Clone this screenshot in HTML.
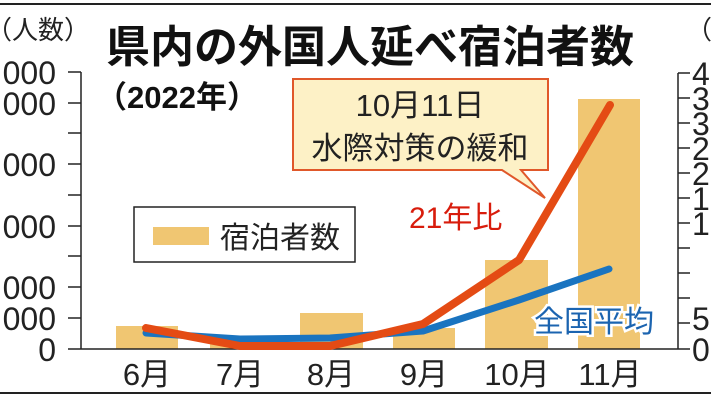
<!DOCTYPE html>
<html><head><meta charset="utf-8"><style>
body{margin:0;background:#fff;}
svg{display:block;font-family:"Liberation Sans","Noto Sans CJK JP",sans-serif;}
</style></head><body>
<svg width="711" height="400" viewBox="0 0 711 400" xmlns="http://www.w3.org/2000/svg">
<rect width="711" height="400" fill="#fff"/>
<line x1="0" y1="4" x2="711" y2="4" stroke="#222" stroke-width="2"/>
<line x1="0" y1="393" x2="711" y2="393" stroke="#222" stroke-width="2"/>
<g fill="#f0c672">
<rect x="116" y="326" width="62" height="23"/>
<rect x="210" y="337" width="62" height="12"/>
<rect x="300" y="313" width="63" height="36"/>
<rect x="393" y="328" width="62" height="21"/>
<rect x="485" y="260" width="63" height="89"/>
<rect x="578" y="99" width="62" height="250"/>
</g>
<g stroke="#222" stroke-width="1.5">
<line x1="81" y1="72" x2="81" y2="349"/>
<line x1="68" y1="349" x2="678" y2="349"/>
<line x1="68" y1="72" x2="81" y2="72"/><line x1="68" y1="103" x2="81" y2="103"/>
<line x1="68" y1="133" x2="81" y2="133"/><line x1="68" y1="164" x2="81" y2="164"/>
<line x1="68" y1="195" x2="81" y2="195"/><line x1="68" y1="226" x2="81" y2="226"/>
<line x1="68" y1="256" x2="81" y2="256"/><line x1="68" y1="287" x2="81" y2="287"/>
<line x1="68" y1="318" x2="81" y2="318"/>
<line x1="678" y1="73" x2="678" y2="349"/>
<line x1="678" y1="73" x2="690" y2="73"/><line x1="678" y1="98" x2="690" y2="98"/>
<line x1="678" y1="123" x2="690" y2="123"/><line x1="678" y1="148" x2="690" y2="148"/>
<line x1="678" y1="173" x2="690" y2="173"/><line x1="678" y1="198" x2="690" y2="198"/>
<line x1="678" y1="223" x2="690" y2="223"/><line x1="678" y1="248" x2="690" y2="248"/>
<line x1="678" y1="273" x2="690" y2="273"/><line x1="678" y1="298" x2="690" y2="298"/>
<line x1="678" y1="323" x2="690" y2="323"/><line x1="678" y1="349" x2="690" y2="349"/>
</g>
<g font-size="32" fill="#222" text-anchor="end">
<text x="56" y="84">000</text><text x="56" y="115">000</text>
<text x="56" y="176">000</text><text x="56" y="238">000</text>
<text x="56" y="299">000</text><text x="56" y="330">000</text>
<text x="56" y="361">0</text>
</g>
<text x="-14" y="39" font-size="26" fill="#222">（人数）</text>
<g font-size="32" fill="#222">
<text x="692" y="85">4</text><text x="692" y="110">3</text>
<text x="692" y="135">3</text><text x="692" y="160">2</text>
<text x="692" y="185">2</text><text x="692" y="210">1</text>
<text x="692" y="235">1</text><text x="692" y="330">5</text>
<text x="692" y="361">0</text>
</g>
<text x="686" y="39" font-size="26" fill="#222">（倍）</text>
<text x="106" y="62" font-size="44" font-weight="bold" fill="#111">県内の外国人延べ宿泊者数</text>
<text x="96" y="108" font-size="31" font-weight="bold" fill="#111">（2022年）</text>
<rect x="134" y="207" width="221" height="55" fill="#fff" stroke="#222" stroke-width="1.5"/>
<rect x="153" y="227" width="56" height="18" fill="#f0c672"/>
<text x="220" y="248" font-size="30" fill="#222">宿泊者数</text>
<path d="M293,79 H548 V170 H521 L545,198 L502,170 H293 Z" fill="#fdf1c6" stroke="#e0582a" stroke-width="2"/>
<text x="420" y="116" font-size="31" fill="#222" text-anchor="middle">10月11日</text>
<text x="420" y="159" font-size="31" fill="#222" text-anchor="middle">水際対策の緩和</text>
<text x="409" y="228" font-size="30" fill="#d81c0c">21年比</text>
<polyline points="146,333 240,339 330,338 423,331 519,300 609,269" fill="none" stroke="#1a74c0" stroke-width="7" stroke-linecap="round" stroke-linejoin="round"/>
<polyline points="146,328 240,346 330,346 423,324 519,260 610,105" fill="none" stroke="#e44b14" stroke-width="8" stroke-linecap="round" stroke-linejoin="round"/>
<text x="534" y="332" font-size="30" fill="#1b64b0" stroke="#fff" stroke-width="5" paint-order="stroke">全国平均</text>
<g font-size="31" fill="#222" text-anchor="middle">
<text x="147" y="385">6月</text><text x="240" y="385">7月</text>
<text x="331" y="385">8月</text><text x="424" y="385">9月</text>
<text x="517" y="385">10月</text><text x="610" y="385">11月</text>
</g>
</svg>
</body></html>
